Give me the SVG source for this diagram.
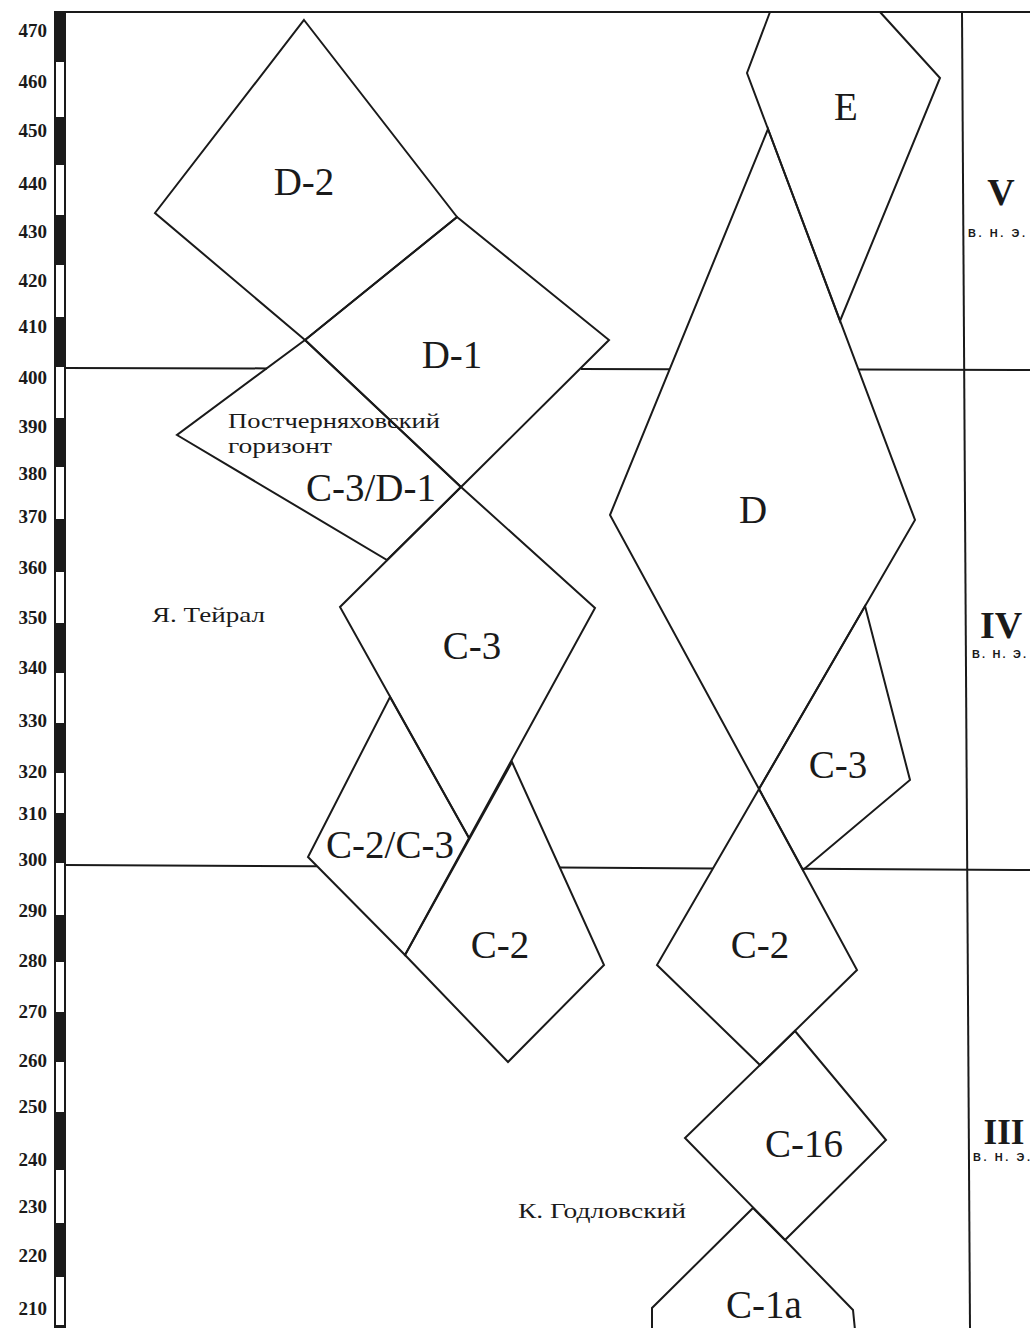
<svg xmlns="http://www.w3.org/2000/svg" width="1030" height="1328" viewBox="0 0 1030 1328">
<style>
.ln{stroke:#1a1a1a;stroke-width:2;fill:none;stroke-linejoin:miter}
.big{font-family:"Liberation Serif",serif;font-size:39px;fill:#1a1a1a;text-anchor:middle}
.sm{font-family:"Liberation Serif",serif;font-size:22px;fill:#1a1a1a}
.num{font-family:"Liberation Serif",serif;font-weight:bold;font-size:19px;fill:#1a1a1a;text-anchor:end}
.rom{font-family:"Liberation Serif",serif;font-weight:bold;font-size:38px;fill:#1a1a1a;text-anchor:middle}
.era{font-family:"Liberation Sans",sans-serif;font-weight:bold;font-size:11px;fill:#1a1a1a}
.blk{fill:#1a1a1a}
</style>
<rect width="1030" height="1328" fill="#fff"/>

<g id="frame">
  <rect x="55" y="12" width="10" height="1318" fill="#fff" stroke="#1a1a1a" stroke-width="2"/>
  <g class="blk">
    <rect x="55" y="12" width="10" height="50"/>
    <rect x="55" y="117" width="10" height="48"/>
    <rect x="55" y="215" width="10" height="50"/>
    <rect x="55" y="317" width="10" height="50"/>
    <rect x="55" y="418" width="10" height="49"/>
    <rect x="55" y="519" width="10" height="53"/>
    <rect x="55" y="623" width="10" height="50"/>
    <rect x="55" y="723" width="10" height="50"/>
    <rect x="55" y="813" width="10" height="50"/>
    <rect x="55" y="915" width="10" height="47"/>
    <rect x="55" y="1012" width="10" height="50"/>
    <rect x="55" y="1112" width="10" height="58"/>
    <rect x="55" y="1223" width="10" height="54"/>
    <rect x="55" y="1325" width="10" height="3"/>
  </g>
  <line class="ln" x1="64" y1="12" x2="1030" y2="12"/>
  <line class="ln" x1="962" y1="12" x2="970" y2="1328"/>
  <g>
    <text class="num" x="47" y="37">470</text>
    <text class="num" x="47" y="88">460</text>
    <text class="num" x="47" y="137">450</text>
    <text class="num" x="47" y="190">440</text>
    <text class="num" x="47" y="238">430</text>
    <text class="num" x="47" y="287">420</text>
    <text class="num" x="47" y="333">410</text>
    <text class="num" x="47" y="384">400</text>
    <text class="num" x="47" y="433">390</text>
    <text class="num" x="47" y="480">380</text>
    <text class="num" x="47" y="523">370</text>
    <text class="num" x="47" y="574">360</text>
    <text class="num" x="47" y="624">350</text>
    <text class="num" x="47" y="674">340</text>
    <text class="num" x="47" y="727">330</text>
    <text class="num" x="47" y="778">320</text>
    <text class="num" x="47" y="820">310</text>
    <text class="num" x="47" y="866">300</text>
    <text class="num" x="47" y="917">290</text>
    <text class="num" x="47" y="967">280</text>
    <text class="num" x="47" y="1018">270</text>
    <text class="num" x="47" y="1067">260</text>
    <text class="num" x="47" y="1113">250</text>
    <text class="num" x="47" y="1166">240</text>
    <text class="num" x="47" y="1213">230</text>
    <text class="num" x="47" y="1262">220</text>
    <text class="num" x="47" y="1315">210</text>
  </g>
  <g>
    <text class="rom" x="1001" y="205">V</text>
    <text class="era" x="968" y="237" textLength="57" lengthAdjust="spacing">В. Н. Э.</text>
    <text class="rom" x="1001" y="638">IV</text>
    <text class="era" x="972" y="658" textLength="54" lengthAdjust="spacing">В. Н. Э.</text>
    <text class="rom" x="1004" y="1144" style="font-size:35px">III</text>
    <text class="era" x="973" y="1161" textLength="57" lengthAdjust="spacing">В. Н. Э.</text>
  </g>
</g>

<g id="period-lines">
  <polyline class="ln" points="65,368 267,368.4"/>
  <polyline class="ln" points="581,369.1 670,369.3"/>
  <polyline class="ln" points="858,369.6 1030,370"/>
  <polyline class="ln" points="65,865 317,866.3"/>
  <polyline class="ln" points="560,867.6 713,868.4"/>
  <polyline class="ln" points="802,868.8 1030,870"/>
</g>

<g id="node-D-2">
  <polygon class="ln" points="304,20 457,217 305,340 155,213"/>
  <text class="big" x="304" y="195">D-2</text>
</g>
<g id="node-D-1">
  <polygon class="ln" points="457,217 609,340 461,487 305,340"/>
  <text class="big" x="452" y="368">D-1</text>
</g>
<g id="node-C-3-D-1">
  <polygon class="ln" points="305,340 461,487 387,560 177,435"/>
  <text class="sm" x="228" y="428" textLength="212" lengthAdjust="spacingAndGlyphs">Постчерняховский</text>
  <text class="sm" x="228" y="453" textLength="104" lengthAdjust="spacingAndGlyphs">горизонт</text>
  <text class="big" x="371" y="501">C-3/D-1</text>
</g>
<g id="node-C-3-left">
  <polygon class="ln" points="461,487 595,608 469,838 340,607"/>
  <text class="big" x="472" y="659">C-3</text>
</g>
<g id="node-C-2-C-3">
  <polygon class="ln" points="390,697 469,838 405,955 308,857"/>
  <text class="big" x="390" y="858">C-2/C-3</text>
</g>
<g id="node-C-2-left">
  <polygon class="ln" points="512,762 604,965 508,1062 405,955"/>
  <text class="big" x="500" y="958">C-2</text>
</g>
<g id="label-teiral">
  <text class="sm" x="152" y="622" textLength="113" lengthAdjust="spacingAndGlyphs">Я. Тейрал</text>
</g>

<g id="node-E">
  <polyline class="ln" points="770,12 747,73 840,321 940,78 880,12"/>
  <text class="big" x="846" y="120">E</text>
</g>
<g id="node-D">
  <polygon class="ln" points="768,129 915,520 759,789 610,515"/>
  <text class="big" x="753" y="523">D</text>
</g>
<g id="node-C-3-right">
  <polygon class="ln" points="865,606 910,780 803,870 759,789"/>
  <text class="big" x="838" y="778">C-3</text>
</g>
<g id="node-C-2-right">
  <polygon class="ln" points="759,789 857,970 760,1065 657,965"/>
  <text class="big" x="760" y="958">C-2</text>
</g>
<g id="node-C-16">
  <polygon class="ln" points="795,1031 886,1140 785,1240 685,1138"/>
  <text class="big" x="804" y="1157">C-16</text>
</g>
<g id="node-C-1a">
  <polyline class="ln" points="652,1330 652,1308 753,1208 785,1240 853,1310 855,1330"/>
  <text class="big" x="764" y="1318">C-1a</text>
</g>
<g id="label-godlowski">
  <text class="sm" x="518" y="1218" textLength="168" lengthAdjust="spacingAndGlyphs">К. Годловский</text>
</g>
</svg>
